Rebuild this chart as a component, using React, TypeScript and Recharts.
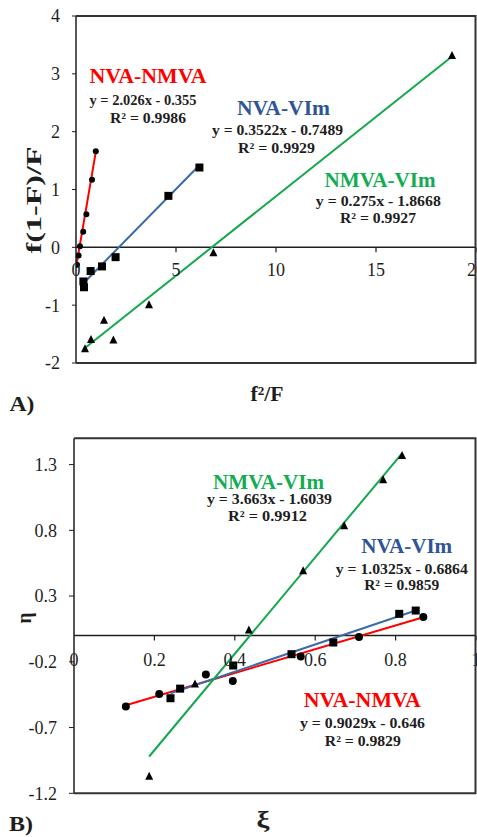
import React from "react"
import { ScatterChart, Scatter, XAxis, YAxis, ReferenceLine } from "recharts"

// A) f(1-F)/F against f²/F
const aNvaNmvaX = [0.05, 0.13, 0.2, 0.36, 0.52, 0.8, 0.99]
const aNvaNmvaY = [-0.3, -0.14, 0.02, 0.27, 0.57, 1.17, 1.66]
const aNvaNmvaFitX = [0.05, 0.99]
const aNvaNmvaFitY = [-0.25, 1.65]

const aNvaVimX = [0.37, 0.4, 0.73, 1.3, 1.98, 4.62, 6.17]
const aNvaVimY = [-0.59, -0.69, -0.41, -0.33, -0.17, 0.89, 1.38]
const aNvaVimFitX = [0.35, 6.17]
const aNvaVimFitY = [-0.63, 1.42]

const aNmvaVimX = [0.45, 0.75, 1.4, 1.87, 3.65, 6.87, 18.8]
const aNmvaVimY = [-1.75, -1.59, -1.26, -1.6, -0.99, -0.09, 3.32]
const aNmvaVimFitX = [0.45, 18.8]
const aNmvaVimFitY = [-1.74, 3.3]

const aXTicks = [0, 5, 10, 15, 20]
const aYTicks = [-2, -1, 0, 1, 2, 3, 4]

// B) η against ξ
const bNvaNmvaX = [0.129, 0.212, 0.328, 0.395, 0.564, 0.709, 0.869]
const bNvaNmvaY = [-0.54, -0.444, -0.297, -0.345, -0.16, -0.012, 0.14]
const bNvaNmvaFitX = [0.129, 0.869]
const bNvaNmvaFitY = [-0.53, 0.139]

const bNvaVimX = [0.24, 0.264, 0.396, 0.541, 0.645, 0.809, 0.85]
const bNvaVimY = [-0.477, -0.404, -0.228, -0.142, -0.053, 0.165, 0.19]
const bNvaVimFitX = [0.24, 0.85]
const bNvaVimFitY = [-0.44, 0.19]

const bNmvaVimX = [0.187, 0.301, 0.435, 0.57, 0.672, 0.769, 0.816]
const bNmvaVimY = [-1.07, -0.368, 0.043, 0.493, 0.835, 1.186, 1.37]
const bNmvaVimFitX = [0.187, 0.816]
const bNmvaVimFitY = [-0.92, 1.386]

const bXTicks = [0, 0.2, 0.4, 0.6, 0.8, 1]
const bYTicks = [-1.2, -0.7, -0.2, 0.3, 0.8, 1.3]

const RED = "#FF0000"
const BLUE_LINE = "#3A6BA8"
const BLUE_TEXT = "#2E5596"
const GREEN_LINE = "#14A84C"
const GREEN_TEXT = "#12AD52"
const INK = "#1e1e1e"
const SERIF = "'Liberation Serif', 'Times New Roman', serif"

const pts = (xs: number[], ys: number[]) => xs.map((x, i) => ({ x, y: ys[i] }))
const seg = (xs: number[], ys: number[]) => [
  { x: xs[0], y: ys[0] },
  { x: xs[1], y: ys[1] },
]

const dot = (r: number) => (p: any) => <circle cx={p.cx} cy={p.cy} r={r} fill="#000" />
const box = (s: number) => (p: any) => (
  <rect x={p.cx - s / 2} y={p.cy - s / 2} width={s} height={s} fill="#000" />
)
const tri = (s: number) => (p: any) => (
  <polygon
    points={`${p.cx},${p.cy - s * 0.55} ${p.cx - s / 2},${p.cy + s * 0.45} ${p.cx + s / 2},${p.cy + s * 0.45}`}
    fill="#000"
  />
)

// x tick labels sit under the y = 0 line, like the Excel original
const xTick = (zeroY: number, gap: number) => (p: any) => {
  const v = p.payload.value
  return (
    <g>
      {v !== 0 && <line x1={p.x} x2={p.x} y1={zeroY} y2={zeroY + 5} stroke={INK} strokeWidth={1.2} />}
      <text x={p.x} y={zeroY + gap} textAnchor="middle" dominantBaseline="central" fontSize={18} fontFamily={SERIF} fill={INK}>
        {String(v)}
      </text>
    </g>
  )
}

function T({ x, y, w, s = 14, c = INK, rot, children }: any) {
  return (
    <text
      x={x}
      y={y}
      textAnchor="middle"
      dominantBaseline="central"
      fontSize={s}
      fontWeight="bold"
      fill={c}
      fontFamily={SERIF}
      textLength={w}
      lengthAdjust="spacingAndGlyphs"
      transform={rot ? `rotate(-90 ${x} ${y})` : undefined}
    >
      {children}
    </text>
  )
}

const edge = { stroke: INK, strokeWidth: 1.5 }

function ChartA() {
  // plot area: x 76..476, y 16..363
  const zeroY = 16 + (4 / 6) * 347
  return (
    <ScatterChart width={477} height={420} margin={{ top: 16, right: 1, bottom: 27, left: 0 }}>
      <XAxis type="number" dataKey="x" domain={[0, 20]} ticks={aXTicks} interval={0} height={30}
        axisLine={false} tickLine={false} tick={xTick(zeroY, 23)} allowDataOverflow />
      <YAxis type="number" dataKey="y" domain={[-2, 4]} ticks={aYTicks} interval={0} width={76}
        axisLine={edge} tickLine={{ stroke: INK }} tickSize={4} tickMargin={12}
        tick={{ fontSize: 18, fontFamily: SERIF, fill: INK }} allowDataOverflow />
      <ReferenceLine y={0} stroke={INK} strokeWidth={1.5} />
      <Scatter data={pts(aNvaNmvaX, aNvaNmvaY)} shape={dot(3)} isAnimationActive={false} />
      <Scatter data={pts(aNvaVimX, aNvaVimY)} shape={box(8)} isAnimationActive={false} />
      <Scatter data={pts(aNmvaVimX, aNmvaVimY)} shape={tri(8)} isAnimationActive={false} />
      <ReferenceLine segment={seg(aNvaNmvaFitX, aNvaNmvaFitY)} stroke={RED} strokeWidth={2} />
      <ReferenceLine segment={seg(aNvaVimFitX, aNvaVimFitY)} stroke={BLUE_LINE} strokeWidth={2} />
      <ReferenceLine segment={seg(aNmvaVimFitX, aNmvaVimFitY)} stroke={GREEN_LINE} strokeWidth={2} />
    </ScatterChart>
  )
}

function ChartB() {
  // plot area: x 74..476, y 18.3..373.3 (page y 438..793)
  const zeroY = 18.3 + (1.5 / 2.7) * 355
  return (
    <ScatterChart width={477} height={417} margin={{ top: 18.3, right: 1, bottom: 13.7, left: 0 }}>
      <XAxis type="number" dataKey="x" domain={[0, 1]} ticks={bXTicks} interval={0} height={30}
        axisLine={false} tickLine={false} tick={xTick(zeroY, 24.5)} allowDataOverflow />
      <YAxis type="number" dataKey="y" domain={[-1.2, 1.5]} ticks={bYTicks} interval={0} width={74}
        axisLine={edge} tickLine={{ stroke: INK }} tickSize={5} tickMargin={12}
        tick={{ fontSize: 18, fontFamily: SERIF, fill: INK }} tickFormatter={(v: number) => v.toFixed(1)}
        allowDataOverflow />
      <ReferenceLine y={0} stroke={INK} strokeWidth={1.5} />
      <Scatter data={pts(bNvaNmvaX, bNvaNmvaY)} shape={dot(4)} isAnimationActive={false} />
      <Scatter data={pts(bNvaVimX, bNvaVimY)} shape={box(8)} isAnimationActive={false} />
      <Scatter data={pts(bNmvaVimX, bNmvaVimY)} shape={tri(8)} isAnimationActive={false} />
      <ReferenceLine segment={seg(bNvaNmvaFitX, bNvaNmvaFitY)} stroke={RED} strokeWidth={2} />
      <ReferenceLine segment={seg(bNvaVimFitX, bNvaVimFitY)} stroke={BLUE_LINE} strokeWidth={2} />
      <ReferenceLine segment={seg(bNmvaVimFitX, bNmvaVimFitY)} stroke={GREEN_LINE} strokeWidth={2} />
    </ScatterChart>
  )
}

export default function App() {
  return (
    <div style={{ position: "relative", width: 477, height: 837, background: "#fff", overflow: "hidden" }}>
      <style>{"body{margin:0}"}</style>
      <div style={{ position: "absolute", left: 0, top: 0 }}>
        <ChartA />
      </div>
      <div style={{ position: "absolute", left: 0, top: 420 }}>
        <ChartB />
      </div>
      <svg width={477} height={837} style={{ position: "absolute", left: 0, top: 0, pointerEvents: "none" }}>
        {/* plot frames */}
        <path d="M76 16 H475.5 V363 H76" fill="none" stroke="#333" strokeWidth={2} />
        <path d="M74 438.3 H475.5 V793.3 H74" fill="none" stroke="#333" strokeWidth={2} />
        {/* chart A annotations */}
        <T x={148} y={76} w={117} s={20} c={RED}>NVA-NMVA</T>
        <T x={143} y={100} w={107}>y = 2.026x - 0.355</T>
        <T x={148} y={118} w={76}>R² = 0.9986</T>
        <T x={283.5} y={108} w={93} s={20} c={BLUE_TEXT}>NVA-VIm</T>
        <T x={277.5} y={130} w={131}>y = 0.3522x - 0.7489</T>
        <T x={276.5} y={148} w={77}>R² = 0.9929</T>
        <T x={380} y={180} w={111} s={20} c={GREEN_TEXT}>NMVA-VIm</T>
        <T x={378.3} y={201.7} w={125}>y = 0.275x - 1.8668</T>
        <T x={378} y={218.3} w={76}>R² = 0.9927</T>
        <T x={33.5} y={200} w={107} s={22} rot>f(1-F)/F</T>
        <T x={267} y={393} w={33} s={22}>f²/F</T>
        <T x={22} y={403} w={25} s={22}>A)</T>
        {/* chart B annotations */}
        <T x={268.5} y={481.7} w={111} s={20} c={GREEN_TEXT}>NMVA-VIm</T>
        <T x={269.5} y={499} w={125}>y = 3.663x - 1.6039</T>
        <T x={267.5} y={516.7} w={79}>R² = 0.9912</T>
        <T x={406.7} y={546} w={91} s={20} c={BLUE_TEXT}>NVA-VIm</T>
        <T x={401.8} y={569} w={132}>y = 1.0325x - 0.6864</T>
        <T x={401.7} y={585.7} w={75}>R² = 0.9859</T>
        <T x={362.3} y={700} w={117} s={20} c={RED}>NVA-NMVA</T>
        <T x={362.5} y={723.3} w={125}>y = 0.9029x - 0.646</T>
        <T x={362.8} y={741} w={76}>R² = 0.9829</T>
        <T x={23} y={618} w={11} s={22} rot>η</T>
        <T x={263} y={819} w={13} s={24}>ξ</T>
        <T x={21} y={824} w={24} s={20}>B)</T>
      </svg>
    </div>
  )
}
